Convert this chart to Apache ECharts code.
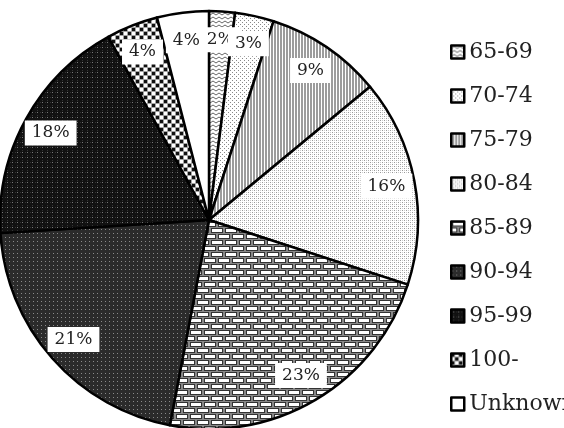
<!DOCTYPE html>
<html>
<head>
<meta charset="utf-8">
<script src="https://cdn.jsdelivr.net/npm/echarts@6/dist/echarts.min.js"></script>
<style>
    html, body {margin: 0; padding: 0; background: #fff;}
    #main {width: 564px; height: 428px;}
</style>
</head>
<body>
<div id="main"></div>
<script>
// age groups and their share (%)
var ageGroups = ['65-69', '70-74', '75-79', '80-84', '85-89', '90-94', '95-99', '100-', 'Unknown'];
var shares = [2, 3, 9, 16, 23, 21, 18, 4, 4];

var tile = function (w, h, draw) {
    var c = document.createElement('canvas');
    c.width = w;
    c.height = h;
    var ctx = c.getContext('2d');
    draw(ctx, w, h);
    return {image: c, repeat: 'repeat'};
};

// hatch patterns, one per group
var patterns = [
    tile(6, 4, function (ctx, w, h) {          // wavy
        ctx.fillStyle = '#fff'; ctx.fillRect(0, 0, w, h);
        ctx.strokeStyle = '#666'; ctx.lineWidth = 1;
        ctx.beginPath(); ctx.moveTo(0, 3); ctx.lineTo(3, 1); ctx.lineTo(6, 3); ctx.stroke();
    }),
    tile(4, 4, function (ctx, w, h) {          // light dots
        ctx.fillStyle = '#fff'; ctx.fillRect(0, 0, w, h);
        ctx.fillStyle = '#888';
        ctx.fillRect(0, 0, 1, 1); ctx.fillRect(2, 2, 1, 1);
    }),
    tile(3, 3, function (ctx, w, h) {          // grey, white vertical lines
        ctx.fillStyle = '#9c9c9c'; ctx.fillRect(0, 0, w, h);
        ctx.fillStyle = '#fff'; ctx.fillRect(0, 0, 1, h);
    }),
    tile(4, 4, function (ctx, w, h) {          // fine dots
        ctx.fillStyle = '#fff'; ctx.fillRect(0, 0, w, h);
        ctx.fillStyle = '#999';
        ctx.fillRect(0, 0, 1, 1); ctx.fillRect(2, 2, 1, 1);
        ctx.fillStyle = '#ccc';
        ctx.fillRect(0, 2, 1, 1); ctx.fillRect(2, 0, 1, 1);
    }),
    tile(14, 12, function (ctx, w, h) {        // bricks
        ctx.fillStyle = '#888'; ctx.fillRect(0, 0, w, h);
        ctx.fillStyle = '#333';
        ctx.fillRect(1, 0, 12, 5);
        ctx.fillRect(8, 6, 12, 5); ctx.fillRect(-6, 6, 12, 5);
        ctx.fillStyle = '#fff';
        ctx.fillRect(2, 1, 10, 3);
        ctx.fillRect(9, 7, 10, 3); ctx.fillRect(-5, 7, 10, 3);
    }),
    tile(4, 4, function (ctx, w, h) {          // dark, grey dots
        ctx.fillStyle = '#2b2b2b'; ctx.fillRect(0, 0, w, h);
        ctx.fillStyle = '#8a8a8a'; ctx.fillRect(1, 1, 1, 1);
    }),
    tile(5, 5, function (ctx, w, h) {          // black, sparse dots
        ctx.fillStyle = '#111'; ctx.fillRect(0, 0, w, h);
        ctx.fillStyle = '#777'; ctx.fillRect(2, 2, 1, 1);
        ctx.fillStyle = '#333'; ctx.fillRect(0, 2, 1, 1); ctx.fillRect(2, 0, 1, 1);
    }),
    tile(8, 8, function (ctx, w, h) {          // black/white checks on grey
        ctx.fillStyle = '#a4a4a4'; ctx.fillRect(0, 0, w, h);
        ctx.fillStyle = '#111'; ctx.fillRect(0, 0, 3, 3); ctx.fillRect(4, 4, 3, 3);
        ctx.fillStyle = '#fff'; ctx.fillRect(4, 0, 3, 3); ctx.fillRect(0, 4, 3, 3);
    }),
    '#ffffff'
];

var pieData = ageGroups.map(function (name, i) {
    return {name: name, value: shares[i], itemStyle: {color: patterns[i]}};
});
var labelData = ageGroups.map(function (name, i) {
    return {name: name, value: shares[i]};
});

var font = 'DejaVu Serif';
var centre = [209, 220];
var R = 209;

var option = {
    backgroundColor: '#fff',
    animation: false,
    legend: {
        orient: 'vertical',
        left: 445,
        top: 35,
        itemWidth: 13,
        itemHeight: 13,
        itemGap: 20,
        icon: 'rect',
        data: ageGroups,
        itemStyle: {borderColor: '#000', borderWidth: 2.5},
        textStyle: {
            fontFamily: font,
            fontSize: 22,
            lineHeight: 24,
            color: '#222'
        }
    },
    series: [
        {
            name: 'age',
            type: 'pie',
            center: centre,
            radius: R,
            startAngle: 90,
            clockwise: true,
            silent: true,
            data: pieData,
            label: {show: false},
            labelLine: {show: false},
            itemStyle: {
                borderColor: '#000',
                borderWidth: 2.5
            }
        },
        {
            // transparent ring only used to place the labels near the rim
            name: 'labels',
            type: 'pie',
            center: centre,
            radius: [R * 0.7, R],
            startAngle: 90,
            clockwise: true,
            silent: true,
            avoidLabelOverlap: false,
            data: labelData,
            itemStyle: {color: 'rgba(0,0,0,0)', borderWidth: 0},
            label: {
                show: true,
                position: 'inside',
                formatter: function (p) { return Math.round(p.percent) + '%'; },
                fontFamily: font,
                fontSize: 17,
                color: '#222',
                backgroundColor: '#fff',
                padding: [4, 7]
            },
            labelLayout: {hideOverlap: false},
            labelLine: {show: false}
        }
    ]
};

var myChart = echarts.init(document.getElementById('main'));
myChart.setOption(option);
</script>
</body>
</html>
